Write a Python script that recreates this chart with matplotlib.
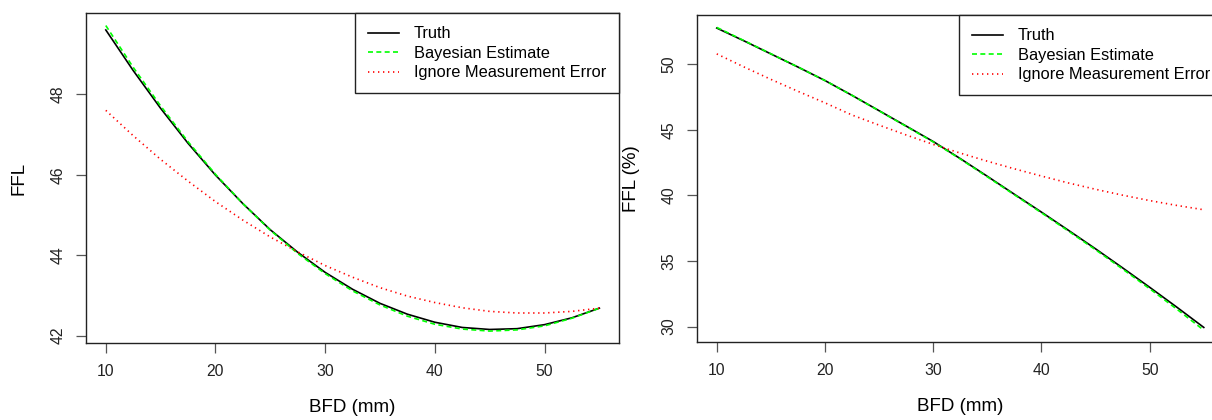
import matplotlib
matplotlib.use("Agg")
import matplotlib.pyplot as plt

plt.rcParams["font.family"] = ["Liberation Sans", "DejaVu Sans"]

# BFD (mm) grid on which the curves were read
bfd = [10, 12.5, 15, 17.5, 20, 22.5, 25, 27.5, 30, 32.5, 35, 37.5,
       40, 42.5, 45, 47.5, 50, 52.5, 55]

# left panel: FFL
truth_l = [49.60, 48.59, 47.65, 46.78, 45.99, 45.28, 44.63, 44.07, 43.57, 43.15,
           42.80, 42.53, 42.33, 42.20, 42.15, 42.17, 42.27, 42.44, 42.68]
bayes_l = [49.71, 48.67, 47.71, 46.82, 46.01, 45.28, 44.62, 44.04, 43.54, 43.11,
           42.76, 42.48, 42.28, 42.16, 42.11, 42.14, 42.24, 42.43, 42.68]
naive_l = [47.60, 46.97, 46.38, 45.84, 45.33, 44.87, 44.45, 44.08, 43.74, 43.45,
           43.19, 42.98, 42.82, 42.69, 42.60, 42.56, 42.56, 42.60, 42.68]

# right panel: FFL (%)
truth_r = [52.75, 51.78, 50.78, 49.78, 48.75, 47.62, 46.45, 45.28, 44.10, 42.80,
           41.45, 40.08, 38.72, 37.33, 35.92, 34.47, 32.99, 31.48, 29.93]
bayes_r = [52.80, 51.80, 50.79, 49.78, 48.75, 47.62, 46.44, 45.26, 44.07, 42.77,
           41.41, 40.04, 38.67, 37.27, 35.85, 34.38, 32.88, 31.33, 29.72]
naive_r = [50.78, 49.79, 48.84, 47.93, 47.05, 46.12, 45.35, 44.60, 43.88, 43.22,
           42.60, 42.02, 41.47, 40.94, 40.46, 40.01, 39.60, 39.23, 38.90]

x_ticks = [10, 20, 30, 40, 50]
y_ticks_l = [42, 44, 46, 48]
y_ticks_r = [30, 35, 40, 45, 50]

labels = ["Truth", "Bayesian Estimate", "Ignore Measurement Error"]

fig = plt.figure(figsize=(12.12, 4.2), dpi=100)
ax1 = fig.add_axes([0.0710, 0.1826, 0.4398, 0.7857])
ax2 = fig.add_axes([0.5753, 0.1850, 0.4340, 0.7786])


def panel(ax, truth, bayes, naive, yticks, ylabel):
    ax.plot(bfd, truth, color="black", lw=1.2, label=labels[0])
    ax.plot(bfd, bayes, color="#00ff00", lw=1.2, linestyle=(0, (3, 2)), label=labels[1])
    ax.plot(bfd, naive, color="#ff0000", lw=1.2, linestyle=(0, (0.8, 2.2)), label=labels[2])

    lo = min(min(truth), min(bayes), min(naive))
    hi = max(max(truth), max(bayes), max(naive))
    r = hi - lo
    ax.set_ylim(lo - 0.04 * r, hi + 0.04 * r)
    ax.set_xlim(10 - 0.04 * 45, 55 + 0.04 * 45)

    ax.set_xticks(x_ticks)
    ax.set_yticks(yticks)
    ax.tick_params(direction="out", length=7, width=0.9, labelsize=11.3,
                   color="#555555", labelcolor="#222222", pad=8)
    for lab in ax.get_yticklabels():
        lab.set_rotation(90)
        lab.set_va("center")
    for s in ax.spines.values():
        s.set_linewidth(1.0)
        s.set_color("#222222")

    ax.set_xlabel("BFD (mm)", fontsize=13.5, va="center")
    ax.xaxis.set_label_coords(0.5, -0.196)
    ax.set_ylabel(ylabel, fontsize=13.5, va="center")
    ax.yaxis.set_label_coords(-0.1257, 0.501)

    leg = ax.legend(loc="upper right", bbox_to_anchor=(1, 1), borderaxespad=0,
                    fancybox=False, framealpha=1, edgecolor="#222222",
                    fontsize=11.8, handlelength=1.9, handletextpad=0.9,
                    borderpad=0.8, labelspacing=0.27)
    leg.get_frame().set_linewidth(1.0)


panel(ax1, truth_l, bayes_l, naive_l, y_ticks_l, "FFL")
panel(ax2, truth_r, bayes_r, naive_r, y_ticks_r, "FFL (%)")

fig.savefig("out.png", dpi=100)
